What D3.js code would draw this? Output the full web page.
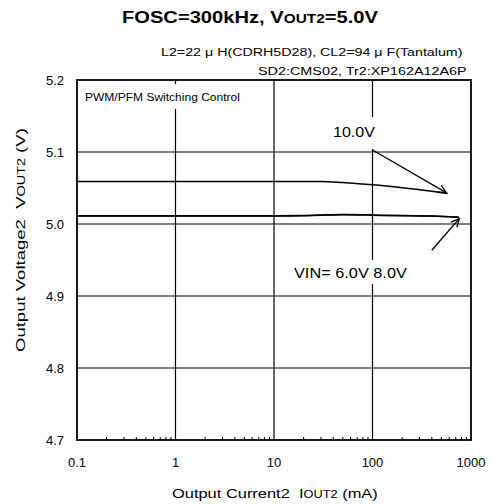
<!DOCTYPE html>
<html><head><meta charset="utf-8">
<script src="https://cdn.jsdelivr.net/npm/d3@7"></script>
<style>body{margin:0;background:#fff}svg{font-family:Arial,"Liberation Sans",sans-serif}</style>
</head><body>
<script>
const xTicks = [0.1, 1, 10, 100, 1000];
const xTickLabels = ["0.1", "1", "10", "100", "1000"];
const yTicks = [4.7, 4.8, 4.9, 5.0, 5.1, 5.2];
const yTickLabels = ["4.7", "4.8", "4.9", "5.0", "5.1", "5.2"];
const current = [0.1, 1, 10, 20, 30, 50, 80, 100, 200, 400, 580];
const v10 = [5.059, 5.059, 5.059, 5.059, 5.059, 5.0575, 5.0555, 5.0545, 5.0505, 5.0455, 5.0425];
const current68 = [0.1, 1, 10, 20, 30, 50, 80, 100, 200, 400, 750];
const v6 = [5.0115, 5.0115, 5.0115, 5.0118, 5.0125, 5.0132, 5.013, 5.0125, 5.0118, 5.0112, 5.0095];
const v8 = [5.0112, 5.0112, 5.0112, 5.0116, 5.0122, 5.0128, 5.0126, 5.0122, 5.0116, 5.011, 5.0093];

const W = 494, H = 504;
const m = {l: 77, r: 471, t: 80, b: 440};
const svg = d3.select("body").append("svg").attr("width", W).attr("height", H);
const x = d3.scaleLog().domain([0.1, 1000]).range([m.l, m.r]);
const y = d3.scaleLinear().domain([4.7, 5.2]).range([m.b, m.t]);

// stretch a text horizontally to a target width, keeping its anchor point
function fit(sel, target, ax, ay, rot) {
  const w = sel.node().getComputedTextLength();
  const s = target / w;
  sel.attr("x", 0).attr("y", 0)
    .attr("transform", `translate(${ax},${ay})` + (rot ? ` rotate(${rot})` : "") + ` scale(${s},1)`);
}

// grid
const g = svg.append("g");
g.selectAll("line.h").data(yTicks.slice(1, -1)).join("line")
  .attr("x1", m.l).attr("x2", m.r).attr("y1", d => y(d)).attr("y2", d => y(d))
  .attr("stroke", "#000").attr("stroke-width", 1.2);
g.selectAll("line.v").data(xTicks.slice(1, -1)).join("line")
  .attr("y1", m.t).attr("y2", m.b).attr("x1", d => x(d)).attr("x2", d => x(d))
  .attr("stroke", "#000").attr("stroke-width", 1.2);

// minor ticks
const minor = [];
for (let e = -1; e < 3; e++) for (let k = 2; k <= 9; k++) minor.push(k * Math.pow(10, e));
g.selectAll("line.mt").data(minor).join("line")
  .attr("x1", d => x(d)).attr("x2", d => x(d)).attr("y1", m.b).attr("y2", m.b - 3)
  .attr("stroke", "#000").attr("stroke-width", 1);

// label backgrounds (hide grid)
svg.append("rect").attr("x", 82).attr("y", 84).attr("width", 185).attr("height", 25).attr("fill", "#fff");
svg.append("rect").attr("x", 328).attr("y", 117).attr("width", 52).attr("height", 32).attr("fill", "#fff");
svg.append("rect").attr("x", 290).attr("y", 260).attr("width", 121).attr("height", 24).attr("fill", "#fff");

// curves
const line = d3.line().x(d => x(d[0])).y(d => y(d[1])).curve(d3.curveMonotoneX);
svg.append("path").datum(current.map((c, i) => [c, v10[i]])).attr("d", line)
  .attr("fill", "none").attr("stroke", "#000").attr("stroke-width", 1.5);
svg.append("path").datum(current68.map((c, i) => [c, v6[i]])).attr("d", line)
  .attr("fill", "none").attr("stroke", "#000").attr("stroke-width", 1.5);
svg.append("path").datum(current68.map((c, i) => [c, v8[i]])).attr("d", line)
  .attr("fill", "none").attr("stroke", "#000").attr("stroke-width", 1.5);

// frame
svg.append("rect").attr("x", m.l).attr("y", m.t).attr("width", m.r - m.l).attr("height", m.b - m.t)
  .attr("fill", "none").attr("stroke", "#000").attr("stroke-width", 1.8);

// arrows
function arrow(x1, y1, x2, y2) {
  svg.append("line").attr("x1", x1).attr("y1", y1).attr("x2", x2).attr("y2", y2)
    .attr("stroke", "#000").attr("stroke-width", 1.3);
  const a = Math.atan2(y2 - y1, x2 - x1), L = 9, s = 0.45;
  const p = [[x2 - L * Math.cos(a - s), y2 - L * Math.sin(a - s)], [x2, y2], [x2 - L * Math.cos(a + s), y2 - L * Math.sin(a + s)]];
  svg.append("path").attr("d", d3.line()(p)).attr("fill", "none").attr("stroke", "#000").attr("stroke-width", 1.3);
}
arrow(x(100), y(5.1) - 2, x(560), y(5.0435));
arrow(x(400), y(4.9635), x(760), y(5.0075));

// axis labels
const ty = svg.append("g").attr("font-size", 13).attr("fill", "#000");
ty.selectAll("text").data(yTicks).join("text")
  .attr("x", 64).attr("y", d => y(d) + 5).attr("text-anchor", "end")
  .text((d, i) => yTickLabels[i]);
const tx = svg.append("g").attr("font-size", 13).attr("fill", "#000");
tx.selectAll("text").data(xTicks).join("text")
  .attr("x", d => x(d)).attr("y", 467).attr("text-anchor", "middle")
  .text((d, i) => xTickLabels[i]);

// titles
const t = svg.append("text").attr("text-anchor", "start")
  .attr("font-size", 17).attr("font-weight", "bold");
t.append("tspan").text("FOSC=300kHz, V");
t.append("tspan").attr("font-size", 13).text("OUT2");
t.append("tspan").text("=5.0V");
fit(t, 256, 122, 23);

const s1 = svg.append("text").attr("font-size", 11.5).text("L2=22 μ H(CDRH5D28), CL2=94 μ F(Tantalum)");
fit(s1, 302, 161, 56);
const s2 = svg.append("text").attr("font-size", 11.5).text("SD2:CMS02, Tr2:XP162A12A6P");
fit(s2, 209, 258, 75);
const pw = svg.append("text").attr("font-size", 11).text("PWM/PFM Switching Control");
fit(pw, 155, 85, 101);
const l10 = svg.append("text").attr("font-size", 15).text("10.0V");
fit(l10, 42, 333, 137);
const lv = svg.append("text").attr("font-size", 15).text("VIN= 6.0V 8.0V");
fit(lv, 113, 294, 278);

const xt = svg.append("text").attr("font-size", 13.5);
xt.append("tspan").text("Output Current2\u00a0\u00a0I");
xt.append("tspan").attr("font-size", 10.5).text("OUT2");
xt.append("tspan").text("\u00a0(mA)");
fit(xt, 206, 172, 498);

const yt = svg.append("text").attr("font-size", 13.5);
yt.append("tspan").text("Output Voltage2\u00a0\u00a0V");
yt.append("tspan").attr("font-size", 10.5).text("OUT2");
yt.append("tspan").text("\u00a0(V)");
fit(yt, 224, 25, 352, -90);
</script>
</body></html>
